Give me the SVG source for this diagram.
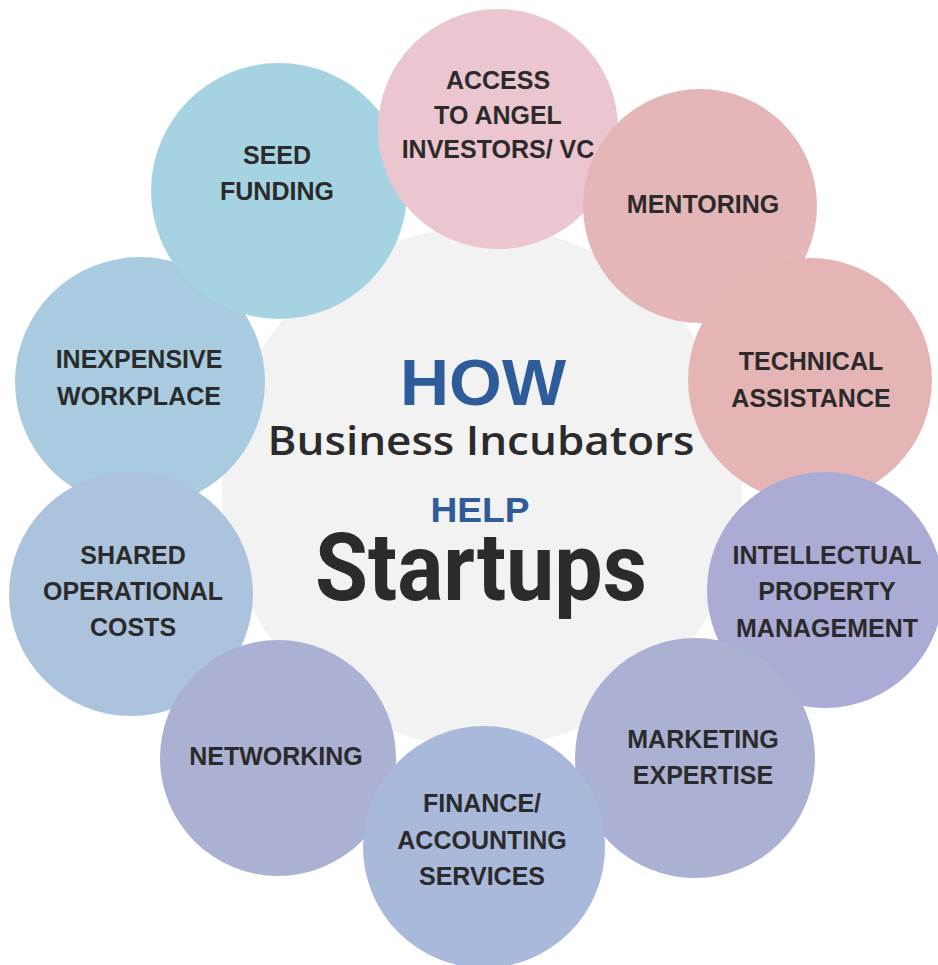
<svg xmlns="http://www.w3.org/2000/svg" width="938" height="965" viewBox="0 0 938 965">
<style>
.lbl{font-family:"Liberation Sans",Arial,sans-serif;font-weight:bold;font-size:25px;fill:#2b2b2b;text-anchor:middle}
.blue{font-family:"Liberation Sans",Arial,sans-serif;font-weight:bold;fill:#2e5b9a;text-anchor:middle}
</style>
<rect width="938" height="965" fill="#ffffff"/>
<g id="center">
<circle cx="482" cy="487" r="260" fill="#f2f2f2"/>
<text class="blue" x="483" y="405" font-size="65" textLength="166" lengthAdjust="spacingAndGlyphs">HOW</text>
<text x="481" y="455" font-family="'Open Sans','Liberation Sans',sans-serif" font-weight="600" font-size="39" fill="#2b2b2b" text-anchor="middle" textLength="427" lengthAdjust="spacingAndGlyphs">Business Incubators</text>
<text class="blue" x="480" y="522" font-size="35" textLength="99" lengthAdjust="spacingAndGlyphs">HELP</text>
<text x="481" y="600" font-family="Roboto,'Liberation Sans',sans-serif" font-weight="bold" font-size="94" fill="#2b2b2b" text-anchor="middle" textLength="332" lengthAdjust="spacingAndGlyphs">Startups</text>
</g>
<g id="inexpensive">
<circle cx="140" cy="382" r="125" fill="#a8cbe0"/>
<text class="lbl" x="139" y="368">INEXPENSIVE</text>
<text class="lbl" x="139" y="405">WORKPLACE</text>
</g>
<g id="seed">
<circle cx="279" cy="191" r="128" fill="#a6d3e2"/>
<text class="lbl" x="277" y="164">SEED</text>
<text class="lbl" x="277" y="200">FUNDING</text>
</g>
<g id="access">
<circle cx="498" cy="129" r="120" fill="#ecc6cf"/>
<text class="lbl" x="498" y="89">ACCESS</text>
<text class="lbl" x="498" y="124">TO ANGEL</text>
<text class="lbl" x="498" y="158">INVESTORS/ VC</text>
</g>
<g id="mentoring">
<circle cx="700" cy="206" r="117" fill="#e5b6b7"/>
<text class="lbl" x="703" y="213">MENTORING</text>
</g>
<g id="technical">
<circle cx="810" cy="380" r="122" fill="#e5b5b5"/>
<text class="lbl" x="811" y="370">TECHNICAL</text>
<text class="lbl" x="811" y="407">ASSISTANCE</text>
</g>
<g id="ip">
<circle cx="825" cy="590" r="118" fill="#abacd6"/>
<text class="lbl" x="827" y="564">INTELLECTUAL</text>
<text class="lbl" x="827" y="600">PROPERTY</text>
<text class="lbl" x="827" y="637">MANAGEMENT</text>
</g>
<g id="marketing">
<circle cx="695" cy="758" r="120" fill="#abb1d3"/>
<text class="lbl" x="703" y="748">MARKETING</text>
<text class="lbl" x="703" y="784">EXPERTISE</text>
</g>
<g id="shared">
<circle cx="131" cy="594" r="122" fill="#abc3dd"/>
<text class="lbl" x="133" y="564">SHARED</text>
<text class="lbl" x="133" y="600">OPERATIONAL</text>
<text class="lbl" x="133" y="636">COSTS</text>
</g>
<g id="networking">
<circle cx="278" cy="758" r="118" fill="#abb1d2"/>
<text class="lbl" x="276" y="765">NETWORKING</text>
</g>
<g id="finance">
<circle cx="484" cy="847" r="121" fill="#a9b9dc"/>
<text class="lbl" x="482" y="812">FINANCE/</text>
<text class="lbl" x="482" y="849">ACCOUNTING</text>
<text class="lbl" x="482" y="885">SERVICES</text>
</g>
<g id="connectors"></g>
</svg>
